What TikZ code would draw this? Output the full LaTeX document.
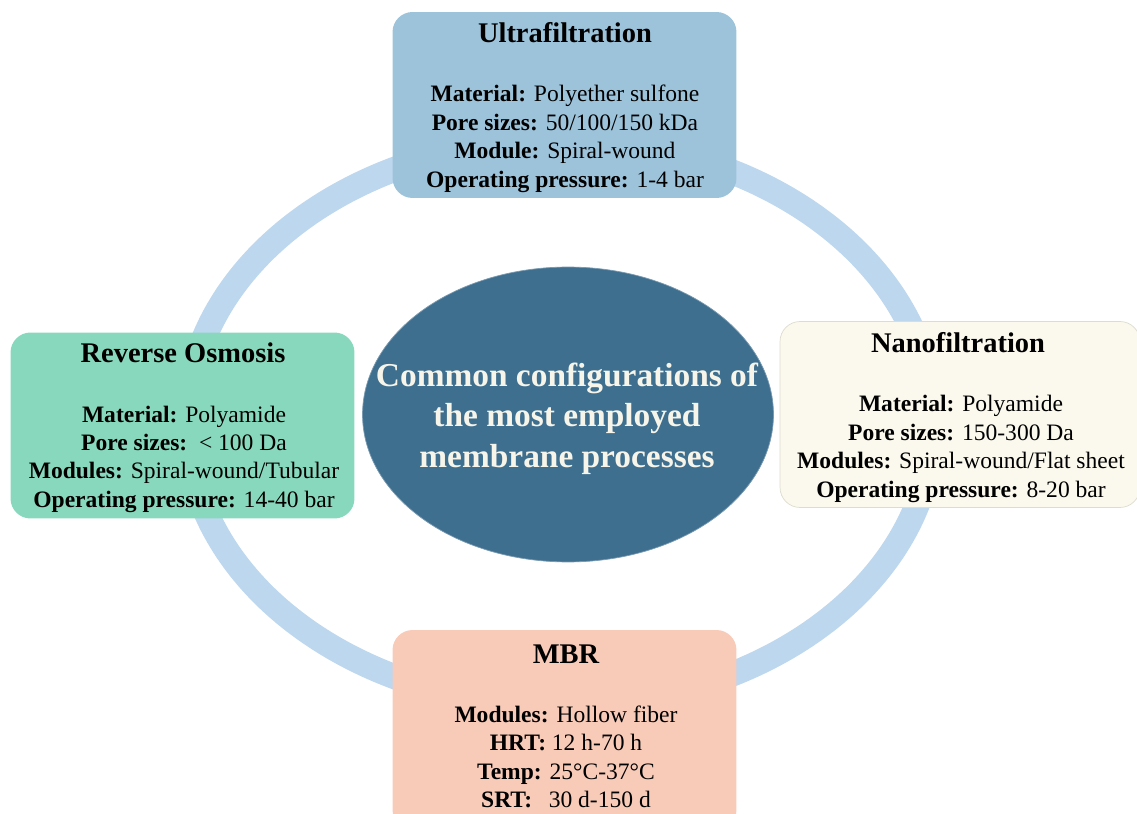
\documentclass[tikz,border=0pt]{standalone}
\usepackage{fontspec}
\setmainfont{Liberation Serif}
\usepackage{tikz}
\usetikzlibrary{shapes.geometric}
\definecolor{ringblue}{HTML}{BDD7EE}
\definecolor{ufblue}{HTML}{9DC3DA}
\definecolor{rogreen}{HTML}{88D8BE}
\definecolor{nfcream}{HTML}{FBF9EE}
\definecolor{nfedge}{HTML}{DDDCCF}
\definecolor{mbrpink}{HTML}{F8CBB9}
\definecolor{hubblue}{HTML}{3F6F8F}
\definecolor{hubtext}{HTML}{F7F5EA}

\begin{document}
\begin{tikzpicture}[x=0.02cm, y=-0.02cm]
        \tikzset{panel/.style={rounded corners=0.4cm, inner sep=0pt, minimum width=6.88cm, minimum height=3.72cm}}
        \tikzset{boxtitle/.style={anchor=base, font=\fontsize{16.2}{19}\selectfont\bfseries}}
        \tikzset{rowtext/.style={anchor=base, font=\fontsize{13.4}{16}\selectfont}}
        \clip (0,0) rectangle (1137,814);
        % ring behind everything
        \draw[ringblue, line width=0.5cm] (560,423) ellipse [x radius=373, y radius=283];
        \node[ellipse, fill=hubblue, draw=hubblue!70!white, minimum width=8.22cm, minimum height=5.9cm, inner sep=0pt] (hub) at (568,414.5) {};
        \node[panel, fill=ufblue] (uf) at (564.5,105) {};
        \node[panel, fill=rogreen] (ro) at (182.5,425.5) {};
        \node[panel, fill=nfcream, draw=nfedge, minimum width=7.2cm] (nf) at (960,414.5) {};
        \node[panel, fill=mbrpink, minimum height=4cm] (mbr) at (564.5,730) {};
        % titles
        \node[boxtitle] (uft) at (565,43) {Ultrafiltration};
        \node[boxtitle] (rot) at (183,363) {Reverse Osmosis};
        \node[boxtitle] (nft) at (958,353) {Nanofiltration};
        \node[boxtitle] (mbrt) at (566,663) {MBR};
        % details
        \foreach \txt [count=\i from 0] in {{\textbf{Material:} Polyether sulfone}, {\textbf{Pore sizes:} 50/100/150 kDa}, {\textbf{Module:} Spiral-wound}, {\textbf{Operating pressure:} 1-4 bar}}
          \node[rowtext] (uf\i) at (565,{102+28.5*\i}) {\txt};
        \foreach \txt [count=\i from 0] in {{\textbf{Material:} Polyamide}, {\textbf{Pore sizes:}\ \ < 100 Da}, {\textbf{Modules:} Spiral-wound/Tubular}, {\textbf{Operating pressure:} 14-40 bar}}
          \node[rowtext] (ro\i) at (184,{422+28.5*\i}) {\txt};
        \foreach \txt [count=\i from 0] in {{\textbf{Material:} Polyamide}, {\textbf{Pore sizes:} 150-300 Da}, {\textbf{Modules:} Spiral-wound/Flat sheet}, {\textbf{Operating pressure:} 8-20 bar}}
          \node[rowtext] (nf\i) at (961,{412+28.5*\i}) {\txt};
        \foreach \txt [count=\i from 0] in {{\textbf{Modules:} Hollow fiber}, {\textbf{HRT:} 12 h-70 h}, {\textbf{Temp:} 25°C-37°C}, {\textbf{SRT:}\hspace{0.7em}30 d-150 d}}
          \node[rowtext] (mbr\i) at (566,{722+28.5*\i}) {\txt};
        % centre text
        \foreach \txt [count=\i from 0] in {Common configurations of, the most employed, membrane processes}
          \node[anchor=base, text=hubtext, font=\fontsize{19}{22}\selectfont\bfseries] (hub\i) at (567,{387+40*\i}) {\txt};
\end{tikzpicture}
\end{document}
